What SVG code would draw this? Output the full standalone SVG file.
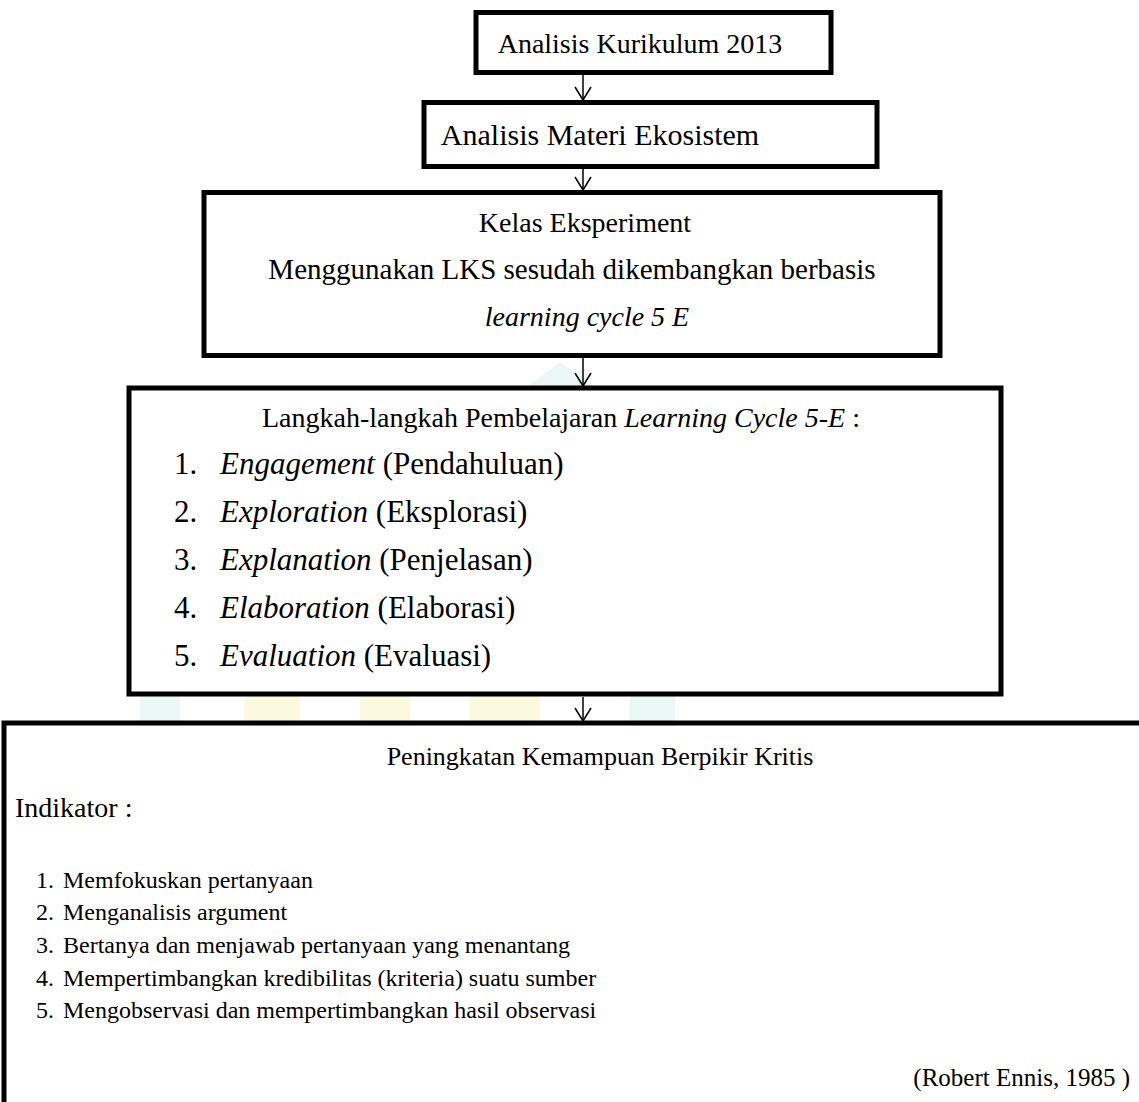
<svg xmlns="http://www.w3.org/2000/svg" width="1139" height="1102" viewBox="0 0 1139 1102">
<style>
.box{fill:#fff;stroke:#000;stroke-width:5}
.t{font-family:"Liberation Serif","Times New Roman",serif;fill:#000}
.f31{font-size:31px}
.f30{font-size:30px}
.f29{font-size:29px}
.f28{font-size:28px}
.f26{font-size:26px}
.f25{font-size:25px}
.f24{font-size:24px}
.c{text-anchor:middle}
.i{font-style:italic}
.conn{stroke:#000;stroke-width:1.5;fill:none}
</style>
<defs>
<marker id="v" markerUnits="userSpaceOnUse" markerWidth="16" markerHeight="18" refX="14" refY="9" orient="auto" viewBox="0 0 16 18">
<path d="M1,1 L14,9 L1,17" fill="none" stroke="#000" stroke-width="1.5"/>
</marker>
</defs>
<rect width="1139" height="1102" fill="#fff"/>
<g id="watermark" opacity="0.16">
<polygon points="560,362 600,392 520,392" fill="#7ccfc4"/>
<rect x="140" y="696" width="40" height="28" fill="#7ccfc4"/>
<rect x="245" y="696" width="55" height="28" fill="#e8e23a"/>
<rect x="360" y="696" width="50" height="28" fill="#e8e23a"/>
<rect x="470" y="696" width="70" height="28" fill="#e8e23a"/>
<rect x="630" y="696" width="45" height="28" fill="#7ccfc4"/>
</g>
<g id="connectors">
<line class="conn" x1="583" y1="75" x2="583" y2="100" marker-end="url(#v)"/>
<line class="conn" x1="583" y1="169" x2="583" y2="190" marker-end="url(#v)"/>
<line class="conn" x1="583" y1="358" x2="583" y2="386" marker-end="url(#v)"/>
<line class="conn" x1="583" y1="697" x2="583" y2="721" marker-end="url(#v)"/>
</g>
<g id="node1">
<rect class="box" x="476" y="12.5" width="355" height="60"/>
<text class="t f28 c" x="640" y="53">Analisis Kurikulum 2013</text>
</g>
<g id="node2">
<rect class="box" x="424" y="102.5" width="453" height="64"/>
<text class="t f30 c" x="600" y="145">Analisis Materi Ekosistem</text>
</g>
<g id="node3">
<rect class="box" x="204" y="192.5" width="736" height="163"/>
<text class="t f28 c" x="585" y="232">Kelas Eksperiment</text>
<text class="t f29 c" x="572" y="279">Menggunakan LKS sesudah dikembangkan berbasis</text>
<text class="t f28 c i" x="587" y="326">learning cycle 5 E</text>
</g>
<g id="node4">
<rect class="box" x="129" y="388" width="872" height="306"/>
<text class="t f28" x="262" y="427">Langkah-langkah Pembelajaran <tspan class="i">Learning Cycle 5-E</tspan> :</text>
<text class="t f31" x="174" y="474">1.</text><text class="t f31" x="220" y="474"><tspan class="i">Engagement</tspan> (Pendahuluan)</text>
<text class="t f31" x="174" y="522">2.</text><text class="t f31" x="220" y="522"><tspan class="i">Exploration</tspan> (Eksplorasi)</text>
<text class="t f31" x="174" y="570">3.</text><text class="t f31" x="220" y="570"><tspan class="i">Explanation</tspan> (Penjelasan)</text>
<text class="t f31" x="174" y="618">4.</text><text class="t f31" x="220" y="618"><tspan class="i">Elaboration</tspan> (Elaborasi)</text>
<text class="t f31" x="174" y="666">5.</text><text class="t f31" x="220" y="666"><tspan class="i">Evaluation</tspan> (Evaluasi)</text>
</g>
<g id="node5">
<rect class="box" x="4" y="723" width="1150" height="400"/>
<text class="t f26 c" x="600" y="765">Peningkatan Kemampuan Berpikir Kritis</text>
<text class="t f28" x="15" y="817">Indikator :</text>
<text class="t f24" x="36" y="888">1.</text><text class="t f24" x="63" y="888">Memfokuskan pertanyaan</text>
<text class="t f24" x="36" y="920">2.</text><text class="t f24" x="63" y="920">Menganalisis argument</text>
<text class="t f24" x="36" y="953">3.</text><text class="t f24" x="63" y="953">Bertanya dan menjawab pertanyaan yang menantang</text>
<text class="t f24" x="36" y="986">4.</text><text class="t f24" x="63" y="986">Mempertimbangkan kredibilitas (kriteria) suatu sumber</text>
<text class="t f24" x="36" y="1018">5.</text><text class="t f24" x="63" y="1018">Mengobservasi dan mempertimbangkan hasil observasi</text>
<text class="t f25" x="1130" y="1086" text-anchor="end">(Robert Ennis, 1985 )</text>
</g>
</svg>
